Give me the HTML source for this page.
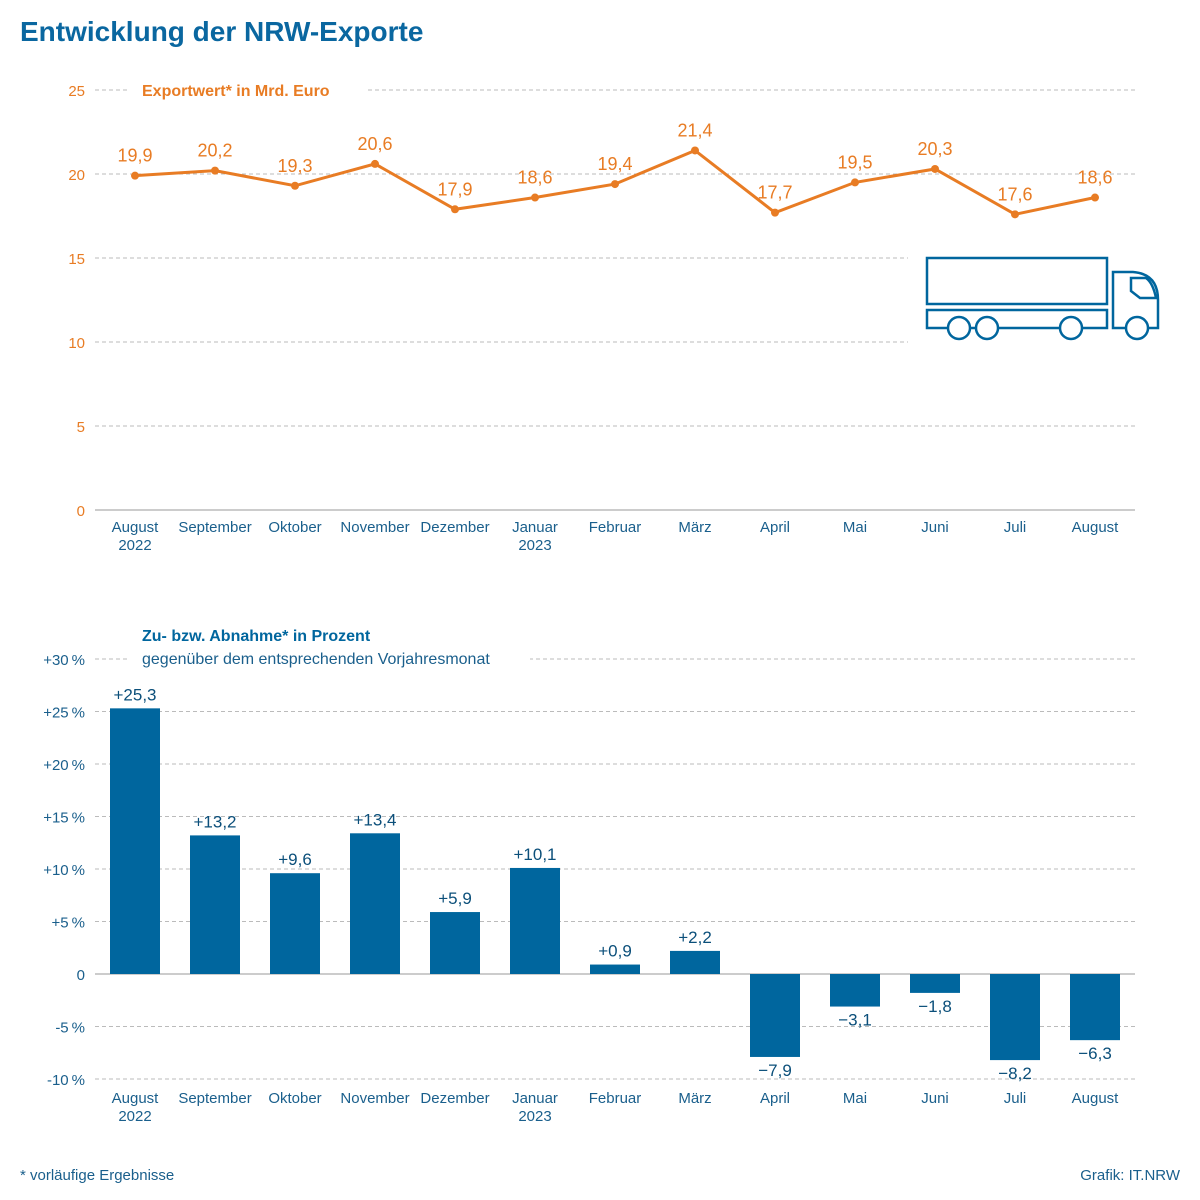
<!DOCTYPE html>
<html><head><meta charset="utf-8"><style>
body{margin:0;background:#fff;}
svg{display:block;font-family:"Liberation Sans",sans-serif;}
</style></head><body>
<svg id="c" width="1200" height="1200" viewBox="0 0 1200 1200">
<text x="20" y="41" font-size="28" font-weight="bold" fill="#0a67a0">Entwicklung der NRW-Exporte</text>
<g id="top"></g>
<g id="bot"></g>
<text x="20" y="1180" font-size="15" fill="#1a5f8c">*  vorläufige Ergebnisse</text>
<text x="1180" y="1180" font-size="15" fill="#1a5f8c" text-anchor="end">Grafik: IT.NRW</text>
</svg>
<script>
const months=["August","September","Oktober","November","Dezember","Januar","Februar","März","April","Mai","Juni","Juli","August"];
const years=["2022","","","","","2023","","","","","","",""];
const exportValues=[19.9,20.2,19.3,20.6,17.9,18.6,19.4,21.4,17.7,19.5,20.3,17.6,18.6];
const changeValues=[25.3,13.2,9.6,13.4,5.9,10.1,0.9,2.2,-7.9,-3.1,-1.8,-8.2,-6.3];
const topTicks=[0,5,10,15,20,25];
const botTicks=[-10,-5,0,5,10,15,20,25,30];
const botTickLabels=["-10\u2009%","-5\u2009%","0","+5\u2009%","+10\u2009%","+15\u2009%","+20\u2009%","+25\u2009%","+30\u2009%"];

const NS="http://www.w3.org/2000/svg";
function mk(p,t,a,txt){const e=document.createElementNS(NS,t);for(const k in a)e.setAttribute(k,a[k]);if(txt!==undefined)e.textContent=txt;p.appendChild(e);return e;}
const xPos=i=>135+i*80;
const yTop=v=>510-v*16.8;
const yBot=v=>974-v*10.5;
const fmt=v=>v.toFixed(1).replace('.',',');
const fmtS=v=>(v>=0?'+':'\u2212')+Math.abs(v).toFixed(1).replace('.',',');
const OR="#e87c24",BL="#00669e",GR="#bbb";

const T=document.getElementById('top');
topTicks.forEach(v=>{
  const l=mk(T,'line',{x1:95,x2:1135,y1:yTop(v),y2:yTop(v),stroke:v===0?"#999":GR,'stroke-dasharray':v===0?"":"4 3"});
  
  
  const t=mk(T,'text',{x:85,y:yTop(v)+6,'font-size':15,fill:OR,'text-anchor':'end'},String(v));
  
  
});
mk(T,'rect',{x:130,y:78,width:238,height:24,fill:'#fff'});
let tt=mk(T,'text',{x:142,y:96,'font-size':16,'font-weight':'bold',fill:OR},"Exportwert* in Mrd. Euro");


const tr=mk(T,'g',{fill:'none',stroke:BL,'stroke-width':2.5});


mk(T,'rect',{x:908,y:245,width:270,height:105,fill:'#fff'});
T.appendChild(tr);
mk(tr,'rect',{x:927,y:258,width:180,height:46});
mk(tr,'path',{d:"M948,328 H927 V310 H1107 V328 H1082 M1060,328 H998 M976,328 H970"});
mk(tr,'path',{d:"M1126,328 H1113 V272 H1133 Q1158,274 1158,300 V328 H1148"});
mk(tr,'path',{d:"M1131,278 H1146 Q1153,283 1156,298 H1140 L1131,291 Z"});
[959,987,1071,1137].forEach(x=>mk(tr,'circle',{cx:x,cy:328,r:11,fill:'#fff'}));
const pts=exportValues.map((v,i)=>xPos(i)+','+yTop(v)).join(' ');
const pl=mk(T,'polyline',{points:pts,fill:'none',stroke:OR,'stroke-width':3});


exportValues.forEach((v,i)=>{
  const c=mk(T,'circle',{cx:xPos(i),cy:yTop(v),r:4,fill:OR});
  
  
  const t=mk(T,'text',{x:xPos(i),y:yTop(v)-14,'font-size':18,fill:OR,'text-anchor':'middle'},fmt(v));
  
  
});
months.forEach((m,i)=>{
  const t=mk(T,'text',{x:xPos(i),y:532,'font-size':15,fill:'#1a5f8c','text-anchor':'middle'},m);
  
  
  if(years[i]){const y=mk(T,'text',{x:xPos(i),y:550,'font-size':15,fill:'#1a5f8c','text-anchor':'middle'},years[i]);
  
  }
});

const B=document.getElementById('bot');
botTicks.forEach((v,k)=>{
  const l=mk(B,'line',{x1:95,x2:1135,y1:yBot(v),y2:yBot(v),stroke:v===0?"#999":GR,'stroke-dasharray':v===0?"":"4 3"});
  
  
  const t=mk(B,'text',{x:85,y:yBot(v)+6,'font-size':15,fill:'#1a5f8c','text-anchor':'end'},botTickLabels[k]);
  
  
});
mk(B,'rect',{x:130,y:647,width:400,height:24,fill:'#fff'});
let b1=mk(B,'text',{x:142,y:641,'font-size':16,'font-weight':'bold',fill:BL},"Zu- bzw. Abnahme* in Prozent");


let b2=mk(B,'text',{x:142,y:664,'font-size':16,fill:'#1a5f8c'},"gegenüber dem entsprechenden Vorjahresmonat");


changeValues.forEach((v,i)=>{
  const y0=yBot(Math.max(v,0)),h=Math.abs(yBot(v)-yBot(0));
  const b=mk(B,'rect',{x:xPos(i)-25,y:y0,width:50,height:h,fill:BL});
  
  
  const ly=v>=0?yBot(v)-8:yBot(v)+19;
  const t=mk(B,'text',{x:xPos(i),y:ly,'font-size':17,fill:'#0b4f7a','text-anchor':'middle'},fmtS(v));
  
  
});
months.forEach((m,i)=>{
  const t=mk(B,'text',{x:xPos(i),y:1103,'font-size':15,fill:'#1a5f8c','text-anchor':'middle'},m);
  
  
  if(years[i]){const y=mk(B,'text',{x:xPos(i),y:1121,'font-size':15,fill:'#1a5f8c','text-anchor':'middle'},years[i]);
  
  }
});
</script>
</body></html>
